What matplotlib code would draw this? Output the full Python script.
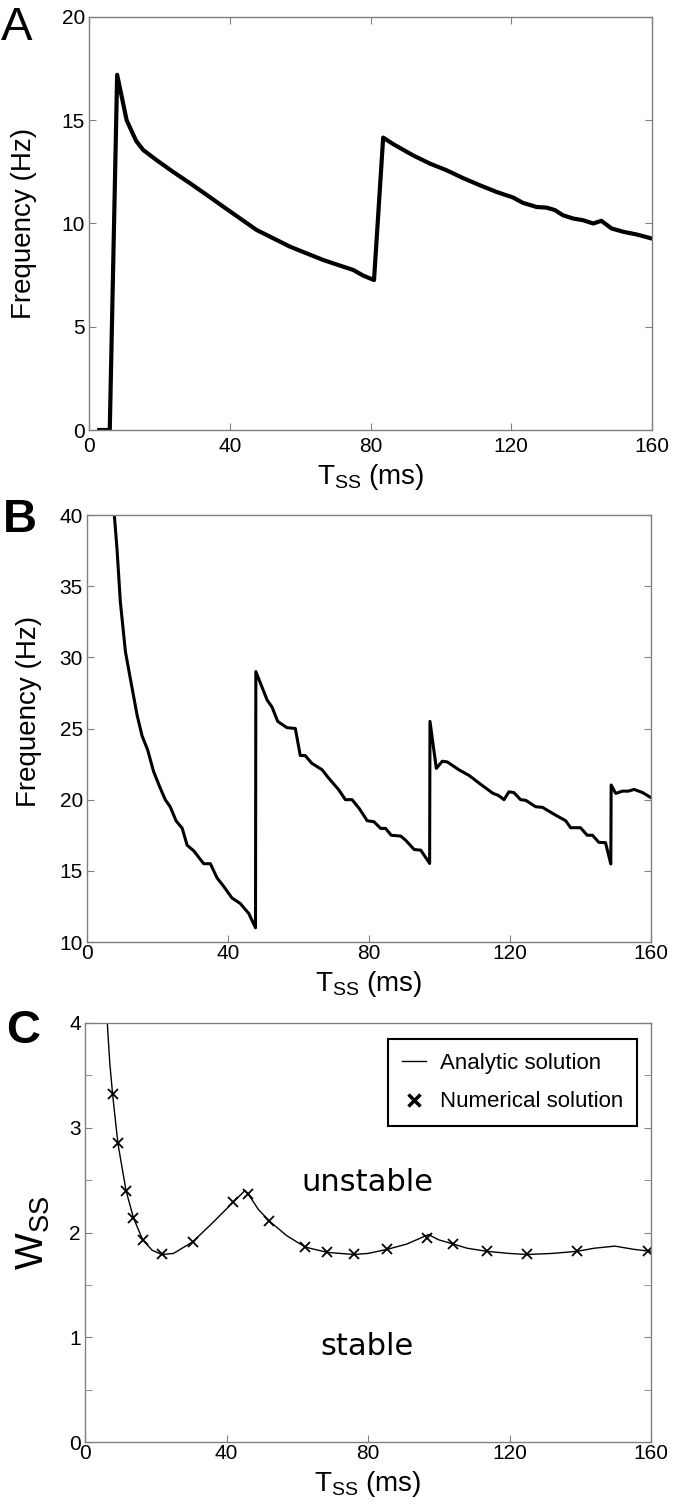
import matplotlib
matplotlib.use("Agg")
import matplotlib.pyplot as plt
from matplotlib.lines import Line2D
from matplotlib.ticker import MultipleLocator

plt.rcParams['font.family'] = ['Liberation Sans', 'DejaVu Sans']
plt.rcParams['mathtext.default'] = 'regular'

# Panel A: frequency vs T_SS
a_t = [2.9, 5.9, 8.0, 10.7, 13.4, 15.4, 19.2, 23.9, 28.7, 33.5, 38.2, 42.9, 47.6,
       52.4, 57.1, 61.9, 66.6, 71.0, 75.1, 77.9, 81.0, 83.6, 86.5, 92.1, 96.9,
       101.6, 106.3, 111.1, 115.8, 120.5, 123.3, 127.2, 130.0, 132.4, 134.7,
       137.6, 140.4, 143.3, 145.6, 148.5, 151.8, 155.6, 160.0]
a_f = [0, 0, 17.2, 15.0, 14.0, 13.56, 13.07, 12.5, 11.95, 11.38, 10.81, 10.25, 9.69,
       9.28, 8.88, 8.55, 8.23, 7.98, 7.75, 7.48, 7.26, 14.16, 13.84, 13.3, 12.9,
       12.58, 12.2, 11.85, 11.53, 11.26, 11.0, 10.8, 10.77, 10.65, 10.4,
       10.24, 10.16, 10.0, 10.13, 9.76, 9.6, 9.47, 9.27]

# Panel B
b_t = [7.75, 8.5, 9.46, 10.9, 12.3, 14.2, 15.6, 17.2, 18.9, 20.8, 22.2, 23.6, 25.3,
       27.0, 28.4, 30.3, 33.1, 35.0, 36.9, 38.8, 41.1, 43.5, 45.9, 47.8, 47.9,
       51.1, 52.5, 54.1, 56.7, 59.1, 60.5, 61.9, 63.8, 66.7, 68.6, 71.4, 73.3,
       75.2, 77.2, 79.5, 81.4, 83.3, 84.7, 86.3, 89.0, 90.4, 92.8, 94.7, 97.2,
       97.3, 99.1, 100.8, 102.2, 105.5, 108.4, 112.1, 115.2, 116.7, 118.3, 119.7,
       121.1, 123.0, 124.5, 127.3, 129.2, 132.9, 135.8, 137.2, 140.0, 141.9,
       143.4, 145.2, 147.1, 148.6, 148.7, 150.0, 151.9, 153.6, 155.2, 157.6, 159.6, 160.0]
b_f = [40.0, 37.66, 33.9, 30.4, 28.5, 25.95, 24.5, 23.5, 21.97, 20.8, 20.0, 19.5, 18.5,
       18.0, 16.8, 16.4, 15.5, 15.5, 14.5, 13.9, 13.1, 12.7, 12.0, 11.0, 29.0,
       27.0, 26.5, 25.5, 25.06, 25.0, 23.1, 23.1, 22.55, 22.1, 21.5, 20.7, 20.0,
       20.0, 19.39, 18.52, 18.45, 17.98, 17.98, 17.5, 17.44, 17.15, 16.5, 16.45, 15.52,
       25.5, 22.2, 22.7, 22.65, 22.1, 21.7, 21.0, 20.44, 20.3, 20.0, 20.55,
       20.5, 20.0, 19.95, 19.5, 19.46, 18.92, 18.52, 18.03, 18.03, 17.5,
       17.5, 17.0, 16.98, 15.48, 21.03, 20.44, 20.6, 20.6, 20.72, 20.5, 20.2, 20.15]

# Panel C: analytic curve and numerical points
c_t = [6.3, 7.0, 7.8, 9.3, 11.6, 13.7, 16.3, 19.0, 21.7, 25.0, 30.4, 36.0, 41.9,
       45.2, 46.1, 49.0, 52.1, 57.0, 62.3, 68.5, 76.0, 80.0, 85.5, 91.0, 97.1,
       100.0, 104.1, 108.0, 113.6, 120.0, 125.0, 132.0, 139.0, 144.0, 149.8,
       155.0, 160.0]
c_w = [4.0, 3.62, 3.32, 2.85, 2.40, 2.14, 1.93, 1.83, 1.79, 1.80, 1.91, 2.09, 2.29,
       2.40, 2.37, 2.22, 2.11, 1.97, 1.86, 1.81, 1.79, 1.80, 1.84, 1.89, 1.98,
       1.93, 1.89, 1.85, 1.82, 1.80, 1.79, 1.80, 1.82, 1.85, 1.87,
       1.84, 1.82]
num_t = [7.8, 9.3, 11.6, 13.7, 16.3, 21.7, 30.4, 41.9, 46.1, 52.1, 62.3, 68.5,
         76.0, 85.5, 96.8, 104.1, 113.6, 125.0, 139.0, 159.2]
num_w = [3.32, 2.85, 2.40, 2.14, 1.93, 1.79, 1.91, 2.29, 2.37, 2.11, 1.86, 1.81,
         1.79, 1.84, 1.95, 1.89, 1.82, 1.79, 1.82, 1.82]

W, H = 673, 1508
fig = plt.figure(figsize=(W / 100, H / 100), dpi=100)


def box(l, t, r, b):
    return [l / W, 1 - b / H, (r - l) / W, (b - t) / H]


gray = '#808080'


def style(ax, top_ticks, xpad):
    for s in ax.spines.values():
        s.set_color(gray)
        s.set_linewidth(1.0)
    ax.tick_params(which='both', direction='in', length=5, color=gray,
                   labelsize=15, top=top_ticks, right=True)
    ax.tick_params(axis='x', pad=xpad)
    ax.tick_params(axis='y', pad=3)
    ax.set_xlim(0, 160)
    ax.set_xticks([0, 40, 80, 120, 160])


xl = 'T$_{SS}$ (ms)'

axA = fig.add_axes(box(89, 17, 652, 430))
axA.plot(a_t, a_f, color='black', lw=3)
style(axA, True, 5)
axA.set_ylim(0, 20)
axA.set_yticks([0, 5, 10, 15, 20])
axA.set_ylabel('Frequency (Hz)', fontsize=20)
axA.yaxis.set_label_coords(-0.092, 0.5)
axA.set_xlabel(xl, fontsize=20)

axB = fig.add_axes(box(87, 515, 651, 942))
axB.plot(b_t, b_f, color='black', lw=2.2)
style(axB, False, 1.5)
axB.set_ylim(10, 40)
axB.set_yticks([10, 15, 20, 25, 30, 35, 40])
axB.set_ylabel('Frequency (Hz)', fontsize=20)
axB.yaxis.set_label_coords(-0.08, 0.54)
axB.set_xlabel(xl, fontsize=20)

axC = fig.add_axes(box(85, 1023, 651, 1442))
axC.plot(c_t, c_w, color='black', lw=1.0)
axC.plot(num_t, num_w, ls='none', marker='x', ms=7, mew=1.3, color='black')
style(axC, False, 1.5)
axC.set_ylim(0, 4)
axC.set_yticks([0, 1, 2, 3, 4])
axC.yaxis.set_minor_locator(MultipleLocator(0.5))
axC.tick_params(axis='x', which='minor', bottom=False, top=False)
axC.set_ylabel('W$_{SS}$', fontsize=28)
axC.yaxis.set_label_coords(-0.058, 0.5)
axC.set_xlabel(xl, fontsize=20)
axC.text(61.3, 2.48, 'unstable', family='DejaVu Sans', fontsize=22, va='center')
axC.text(66.6, 0.91, 'stable', family='DejaVu Sans', fontsize=22, va='center')
handles = [Line2D([], [], color='black', lw=1.0),
           Line2D([], [], ls='none', marker='x', ms=9, mew=2.5, color='black')]
leg = axC.legend(handles, ['Analytic solution', 'Numerical solution'],
                 loc='upper right', fontsize=16, frameon=True, fancybox=False,
                 edgecolor='black', framealpha=1, handlelength=1.1,
                 handletextpad=0.6, labelspacing=0.8, borderpad=0.62,
                 borderaxespad=0, bbox_to_anchor=(0.975, 0.962))
leg.get_frame().set_linewidth(1.5)

fig.text(1 / W, 1 - 40 / H, 'A', fontsize=34, va='baseline')
fig.text(3 / W, 1 - 532 / H, 'B', fontsize=34, fontweight='bold', va='baseline')
fig.text(6 / W, 1 - 1043 / H, 'C', fontsize=34, fontweight='bold', va='baseline')

fig.savefig('out.png', dpi=100)
